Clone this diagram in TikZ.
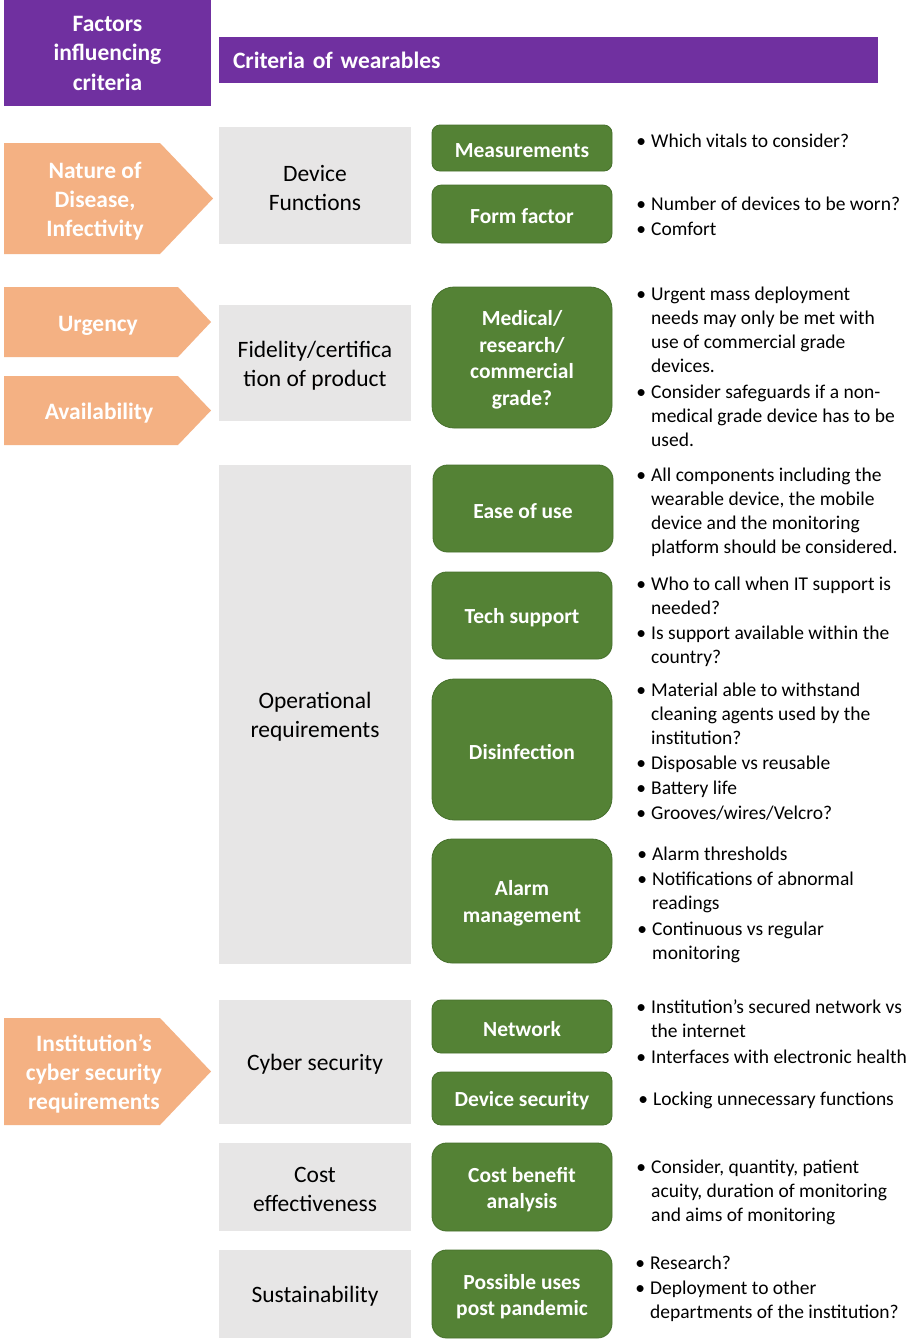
\documentclass[tikz,border=0pt]{standalone}
\usepackage{fontspec}
\setmainfont{Carlito}
\definecolor{purp}{RGB}{112,48,160}
\definecolor{oran}{RGB}{244,177,131}
\definecolor{gry}{RGB}{231,230,230}
\definecolor{grn}{RGB}{84,130,53}
\definecolor{grnb}{RGB}{70,112,44}
\begin{document}
\begin{tikzpicture}[x=1pt,y=-1pt,
  hdr/.style={fill=purp,text=white,font=\fontsize{23.5}{29.5}\selectfont\bfseries,align=center,inner sep=0pt},
  arrowfill/.style={fill=oran},
  ftxt/.style={text=white,font=\fontsize{23.5}{29}\selectfont\bfseries,align=center,inner sep=0pt},
  crittxt/.style={font=\fontsize{23.5}{29}\selectfont,align=center,inner sep=0pt,yshift=-2.5pt},
  crit/.style={fill=gry,minimum width=192pt,inner sep=0pt,label={[crittxt]center:#1}},
  subtxt/.style={text=white,font=\fontsize{21.5}{26.5}\selectfont\bfseries,align=center,inner sep=0pt,yshift=-2.5pt},
  sub/.style={fill=grn,draw=grnb,line width=0.8pt,minimum width=180pt,inner sep=0pt,label={[subtxt]center:#1}},
  note/.style={anchor=north west,inner sep=0pt,align=left,font=\fontsize{19.5}{24}\selectfont}
]
\useasboundingbox[fill=white] (0,0) rectangle (913,1339);

% headers
\node[hdr,minimum width=207pt,minimum height=106pt] (fac) at (107.5,53) {Factors\\influencing\\criteria};
\node[hdr,minimum height=46pt,text width=631pt,inner xsep=14pt,align=left] (cow) at (548.5,60) {Criteria of wearables};

% factor arrows
\path[arrowfill] (4,143) -- (160,143) -- (213,198.5) -- (160,254) -- (4,254) -- cycle;
\node[ftxt] (nat) at (95,201) {Nature of\\Disease,\\Infectivity};
\path[arrowfill] (4,287) -- (178,287) -- (211,322) -- (178,357) -- (4,357) -- cycle;
\node[ftxt] (urg) at (98,326) {Urgency};
\path[arrowfill] (4,376) -- (178,376) -- (211,410.5) -- (178,445) -- (4,445) -- cycle;
\node[ftxt] (ava) at (99,413) {Availability};
\path[arrowfill] (4,1018) -- (160,1018) -- (211,1071.5) -- (160,1125) -- (4,1125) -- cycle;
\node[ftxt] (ins) at (94,1074) {Institution’s\\cyber security\\requirements};

% criteria
\node[crit={Device\\Functions},minimum height=117pt] (dev) at (315,185.5) {};
\node[crit={Fidelity/certifica\\tion of product},minimum height=116pt] (fid) at (315,363) {};
\node[crit={Operational\\requirements},minimum height=499pt] (ope) at (315,714.5) {};
\node[crit={Cyber security},minimum height=124pt] (cyb) at (315,1062) {};
\node[crit={Cost\\effectiveness},minimum height=88pt] (cos) at (315,1187) {};
\node[crit={Sustainability},minimum height=88pt] (sus) at (315,1294) {};

% sub-criteria
\node[sub={Measurements},minimum height=46pt,rounded corners=8pt] (mea) at (522,148) {};
\node[sub={Form factor},minimum height=58pt,rounded corners=9.5pt] (for) at (522,214) {};
\node[sub={Medical/\\research/\\commercial\\grade?},minimum height=141pt,rounded corners=22pt] (med) at (522,357.5) {};
\node[sub={Ease of use},minimum height=87pt,rounded corners=14.5pt] (eas) at (523,508.5) {};
\node[sub={Tech support},minimum height=87pt,rounded corners=14.5pt] (tec) at (522,615.5) {};
\node[sub={Disinfection},minimum height=141pt,rounded corners=22pt] (dis) at (522,749.5) {};
\node[sub={Alarm\\management},minimum height=124pt,rounded corners=20pt] (ala) at (522,901) {};
\node[sub={Network},minimum height=53pt,rounded corners=9pt] (net) at (522,1026.5) {};
\node[sub={Device security},minimum height=53pt,rounded corners=9pt] (dsc) at (522,1098.5) {};
\node[sub={Cost benefit\\analysis},minimum height=88pt,rounded corners=14.5pt] (cba) at (522,1187) {};
\node[sub={Possible uses\\post pandemic},minimum height=88pt,rounded corners=14.5pt] (pos) at (522,1294) {};

% notes
\newcommand\bl{\strut\llap{\textbullet\hspace{5pt}}}
\node[note] (t1) at (651,130.2) {\bl Which vitals to consider?};
\node[note] (t2) at (651,193.2) {\bl Number of devices to be worn?};
\node[note] (t3) at (651,218.2) {\bl Comfort};
\node[note] (t4) at (651,283.2) {\bl Urgent mass deployment\\needs may only be met with\\use of commercial grade\\devices.};
\node[note] (t5) at (651,381.2) {\bl Consider safeguards if a non-\\medical grade device has to be\\used.};
\node[note] (t6) at (651,464.2) {\bl All components including the\\wearable device, the mobile\\device and the monitoring\\platform should be considered.};
\node[note] (t7) at (651,573.2) {\bl Who to call when IT support is\\needed?};
\node[note] (t8) at (651,622.2) {\bl Is support available within the\\country?};
\node[note] (t9) at (651,679.2) {\bl Material able to withstand\\cleaning agents used by the\\institution?};
\node[note] (t10) at (651,752.2) {\bl Disposable vs reusable};
\node[note] (t11) at (651,777.2) {\bl Battery life};
\node[note] (t12) at (651,802.2) {\bl Grooves/wires/Velcro?};
\node[note] (t13) at (652,843.2) {\bl Alarm thresholds};
\node[note] (t14) at (652,868.2) {\bl Notifications of abnormal\\readings};
\node[note] (t15) at (652,918.2) {\bl Continuous vs regular\\monitoring};
\node[note] (t16) at (651,996.2) {\bl Institution’s secured network vs\\the internet};
\node[note] (t17) at (651,1046.2) {\bl Interfaces with electronic health};
\node[note] (t18) at (653,1088.2) {\bl Locking unnecessary functions};
\node[note] (t19) at (651,1156.2) {\bl Consider, quantity, patient\\acuity, duration of monitoring\\and aims of monitoring};
\node[note] (t20) at (650,1252.2) {\bl Research?};
\node[note] (t21) at (650,1277.2) {\bl Deployment to other\\departments of the institution?};
\end{tikzpicture}
\end{document}
